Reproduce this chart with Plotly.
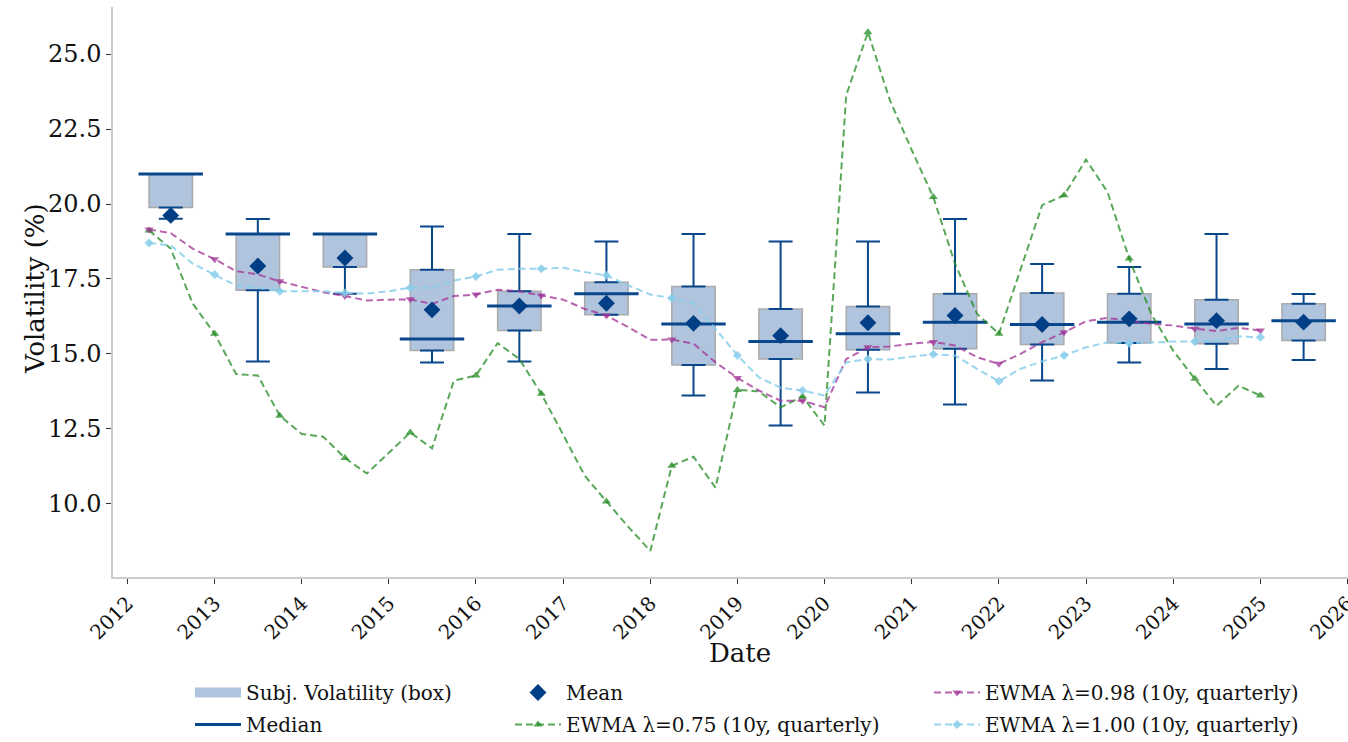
import plotly.graph_objects as go

# ---------------- data ----------------
box_years = [2012, 2013, 2014, 2015, 2016, 2017, 2018, 2019, 2020, 2021, 2022, 2023, 2024, 2025]
box_q1 = [19.88, 17.12, 17.90, 15.11, 15.78, 16.31, 14.63, 14.83, 15.14, 15.17, 15.31, 15.36, 15.34, 15.45]
box_median = [21.00, 19.00, 19.00, 15.50, 16.60, 17.01, 16.00, 15.41, 15.67, 16.06, 15.98, 16.06, 16.00, 16.11]
box_q3 = [21.00, 19.00, 19.00, 17.81, 17.09, 17.39, 17.25, 16.50, 16.58, 17.01, 17.03, 17.01, 16.81, 16.67]
box_low = [19.51, 14.75, 17.01, 14.71, 14.75, 16.31, 13.61, 12.61, 13.71, 13.31, 14.11, 14.71, 14.50, 14.80]
box_high = [21.00, 19.50, 19.00, 19.25, 19.00, 18.75, 19.00, 18.75, 18.75, 19.50, 18.00, 17.90, 19.00, 17.00]
box_mean = [19.62, 17.93, 18.20, 16.47, 16.60, 16.69, 16.02, 15.61, 16.04, 16.28, 15.98, 16.17, 16.11, 16.06]

quarter_dates = [
    "2012-04-01", "2012-07-01", "2012-10-01", "2013-01-01", "2013-04-01", "2013-07-01", "2013-10-01",
    "2014-01-01", "2014-04-01", "2014-07-01", "2014-10-01", "2015-01-01", "2015-04-01", "2015-07-01",
    "2015-10-01", "2016-01-01", "2016-04-01", "2016-07-01", "2016-10-01", "2017-01-01", "2017-04-01",
    "2017-07-01", "2017-10-01", "2018-01-01", "2018-04-01", "2018-07-01", "2018-10-01", "2019-01-01",
    "2019-04-01", "2019-07-01", "2019-10-01", "2020-01-01", "2020-04-01", "2020-07-01", "2020-10-01",
    "2021-01-01", "2021-04-01", "2021-07-01", "2021-10-01", "2022-01-01", "2022-04-01", "2022-07-01",
    "2022-10-01", "2023-01-01", "2023-04-01", "2023-07-01", "2023-10-01", "2024-01-01", "2024-04-01",
    "2024-07-01", "2024-10-01", "2025-01-01",
]
ewma_075 = [19.12, 18.51, 16.68, 15.67, 14.33, 14.28, 12.94, 12.33, 12.24, 11.53, 11.01, 11.72, 12.38,
            11.85, 14.11, 14.28, 15.36, 14.83, 13.67, 12.30, 10.94, 10.08, 9.23, 8.43, 11.27, 11.57,
            10.54, 13.80, 13.75, 13.22, 13.58, 12.61, 23.63, 25.73, 23.46, 21.79, 20.23, 18.01, 16.34,
            15.67, 17.80, 19.96, 20.29, 21.48, 20.40, 18.18, 16.34, 15.11, 14.17, 13.27, 13.94, 13.61]
ewma_098 = [19.15, 19.03, 18.51, 18.16, 17.76, 17.65, 17.42, 17.23, 17.06, 16.93, 16.78, 16.81, 16.82,
            16.67, 16.93, 16.98, 17.14, 17.09, 16.95, 16.81, 16.50, 16.28, 15.89, 15.47, 15.48, 15.34,
            14.72, 14.20, 13.78, 13.44, 13.44, 13.22, 14.83, 15.22, 15.25, 15.34, 15.40, 15.28, 14.89,
            14.67, 15.00, 15.39, 15.72, 16.09, 16.20, 16.09, 16.00, 15.95, 15.84, 15.76, 15.87, 15.78]
ewma_100 = [18.70, 18.62, 18.01, 17.65, 17.28, 17.21, 17.09, 17.09, 17.09, 17.03, 17.01, 17.09, 17.21,
            17.21, 17.45, 17.58, 17.81, 17.84, 17.84, 17.87, 17.73, 17.62, 17.28, 16.98, 16.86, 16.69,
            15.84, 14.95, 14.22, 13.87, 13.78, 13.61, 14.72, 14.83, 14.81, 14.91, 14.99, 14.95, 14.50,
            14.09, 14.50, 14.75, 14.95, 15.22, 15.39, 15.36, 15.39, 15.41, 15.41, 15.45, 15.58, 15.56]

y_ticks = [10.0, 12.5, 15.0, 17.5, 20.0, 22.5, 25.0]
x_tick_years = list(range(2012, 2027))

# ---------------- styles ----------------
FONT = "DejaVu Serif"
TXT = "#111111"
BOX_FILL = "#b0c4de"
BOX_EDGE = "#aaaaaa"
DARK_BLUE = "#08478c"
GREEN = "rgba(34,139,34,0.75)"
PINK = "rgba(160,50,150,0.75)"
SKY = "rgba(135,206,235,0.85)"
DASH = "7px,4px"
MS_DAY = 86400000
box_width = 182 * MS_DAY

box_x = [f"{y}-07-01" for y in box_years]

fig = go.Figure()

# boxes (IQR)
fig.add_trace(go.Bar(
    x=box_x, y=[h - l for h, l in zip(box_q3, box_q1)], base=box_q1, width=box_width,
    marker=dict(color=BOX_FILL, line=dict(color=BOX_EDGE, width=1.5)),
    showlegend=False, hoverinfo="skip",
))
fig.add_trace(go.Scatter(
    x=[None], y=[None], mode="lines", line=dict(color=BOX_FILL, width=17),
    name="Subj. Volatility (box)", legend="legend", legendrank=1, legendgroup="g1",
))

# whiskers: upper (from q3) and lower (from q1)
fig.add_trace(go.Scatter(
    x=box_x, y=box_q3, mode="markers", marker=dict(size=1, opacity=0),
    error_y=dict(type="data", symmetric=False,
                 array=[h - q for h, q in zip(box_high, box_q3)],
                 arrayminus=[0] * len(box_q3), color=DARK_BLUE, thickness=2, width=12),
    showlegend=False, hoverinfo="skip",
))
fig.add_trace(go.Scatter(
    x=box_x, y=box_q1, mode="markers", marker=dict(size=1, opacity=0),
    error_y=dict(type="data", symmetric=False,
                 array=[0] * len(box_q1),
                 arrayminus=[q - l for q, l in zip(box_q1, box_low)], color=DARK_BLUE, thickness=2, width=12),
    showlegend=False, hoverinfo="skip",
))

# medians
fig.add_trace(go.Scatter(
    x=box_x, y=box_median, mode="markers",
    marker=dict(symbol="line-ew", size=46, line=dict(color=DARK_BLUE, width=3)),
    showlegend=False, hoverinfo="skip",
))
fig.add_trace(go.Scatter(
    x=[None], y=[None], mode="lines", line=dict(color=DARK_BLUE, width=3),
    name="Median", legend="legend", legendrank=2, legendgroup="g2",
))

# EWMA lines
def ewma(values, color, symbol, msize, name, legend, rank, group):
    fig.add_trace(go.Scatter(
        x=quarter_dates, y=values, mode="lines",
        line=dict(color=color, width=2, dash=DASH), showlegend=False, hoverinfo="skip",
    ))
    fig.add_trace(go.Scatter(
        x=quarter_dates[::3], y=values[::3], mode="markers",
        marker=dict(color=color, symbol=symbol, size=msize), showlegend=False, hoverinfo="skip",
    ))
    fig.add_trace(go.Scatter(
        x=[None], y=[None], mode="lines+markers",
        line=dict(color=color, width=2, dash=DASH),
        marker=dict(color=color, symbol=symbol, size=msize),
        name=name, legend=legend, legendrank=rank, legendgroup=group,
    ))

ewma(ewma_075, GREEN, "triangle-up", 8, "EWMA λ=0.75 (10y, quarterly)", "legend2", 2, "g4")
ewma(ewma_098, PINK, "triangle-down", 8, "EWMA λ=0.98 (10y, quarterly)", "legend3", 1, "g5")
ewma(ewma_100, SKY, "diamond", 7, "EWMA λ=1.00 (10y, quarterly)", "legend3", 2, "g6")

# means
fig.add_trace(go.Scatter(
    x=box_x, y=box_mean, mode="markers",
    marker=dict(symbol="diamond", size=13, color="#003f85"),
    name="Mean", legend="legend2", legendrank=1, legendgroup="g3", hoverinfo="skip",
))

PLOT_W = 1235
PLOT_H = 570
def lx(page_x):
    return (page_x - 113) / PLOT_W
def ly(page_y):
    return (577 - page_y) / PLOT_H

LEG_Y = ly(673)
LEG_FONT = dict(family=FONT, size=20, color=TXT)
legend_common = dict(bgcolor="rgba(0,0,0,0)", font=LEG_FONT,
                     orientation="v", xanchor="left", yanchor="top", itemwidth=46,
                     tracegroupgap=3, traceorder="grouped")

fig.update_layout(
    width=1348, height=742,
    margin=dict(l=113, r=0, t=7, b=165, autoexpand=False),
    paper_bgcolor="white", plot_bgcolor="white",
    font=dict(family=FONT, color=TXT, size=20),
    showlegend=True,
    legend=dict(x=lx(190), y=LEG_Y, **legend_common),
    legend2=dict(x=lx(510), y=LEG_Y, **legend_common),
    legend3=dict(x=lx(929), y=LEG_Y, **legend_common),
    xaxis=dict(
        type="date", range=["2011-11-02", "2026-01-03"], automargin=False,
        tickvals=[f"{y}-01-01" for y in x_tick_years], ticktext=[str(y) for y in x_tick_years],
        tickangle=-45, tickfont=dict(family=FONT, size=20, color=TXT), ticklabeloverflow="allow",
        ticks="outside", ticklen=5, tickwidth=1.2, tickcolor="#333333",
        showline=True, linecolor="#cccccc", linewidth=1.5, showgrid=False, zeroline=False,
    ),
    yaxis=dict(
        range=[7.56, 26.57], tickvals=y_ticks, ticktext=[f"{v:.1f}" for v in y_ticks], automargin=False,
        tickfont=dict(family=FONT, size=24, color=TXT),
        ticks="outside", ticklen=5, tickwidth=1.2, tickcolor="#333333",
        showline=True, linecolor="#cccccc", linewidth=1.5, showgrid=False, zeroline=False,
    ),
    annotations=[
        dict(text="Date", xref="paper", yref="paper", x=lx(740), y=ly(653), xanchor="center",
             yanchor="middle", showarrow=False, font=dict(family=FONT, size=26, color=TXT)),
        dict(text="Volatility (%)", xref="paper", yref="paper", x=lx(35), y=ly(289), xanchor="center",
             yanchor="middle", textangle=-90, showarrow=False, font=dict(family=FONT, size=26, color=TXT)),
    ],
)

# remove the default 8px page margin so the figure fills the window exactly
fig.write_html("out.html", config={"displayModeBar": False},
               post_script="document.body.style.margin='0';")
